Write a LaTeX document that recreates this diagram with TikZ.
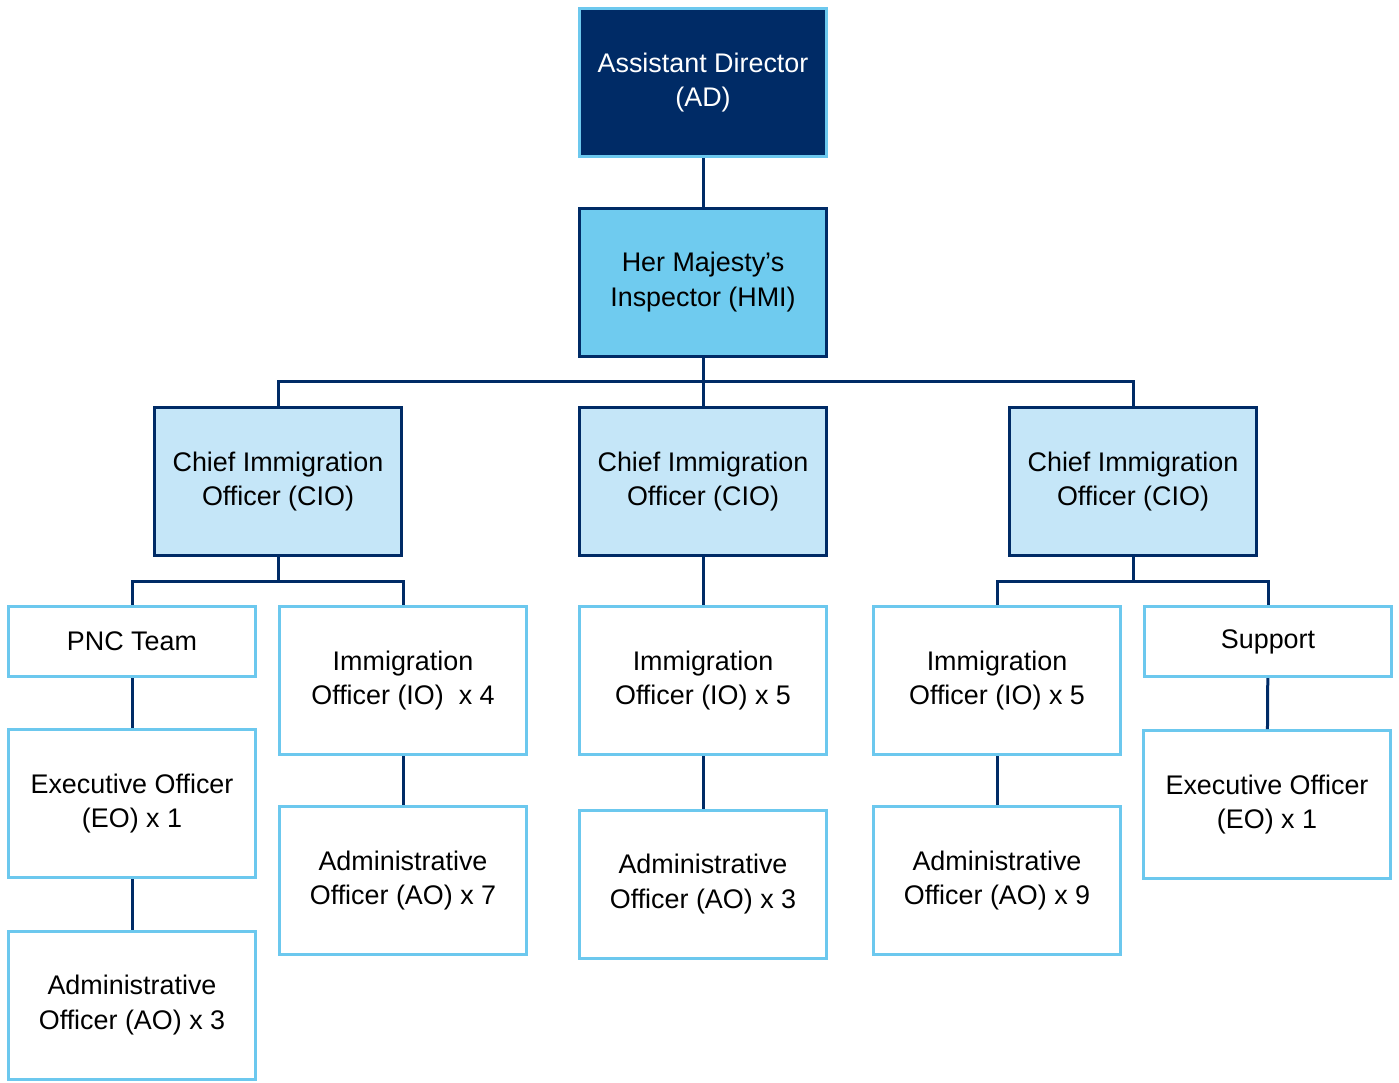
\documentclass[tikz,border=0pt]{standalone}
\usepackage{fontspec}
\setmainfont{Liberation Sans}
\usepackage{tikz}
\usetikzlibrary{positioning,calc}

\definecolor{navy}{RGB}{0,43,102}
\definecolor{edgeblue}{RGB}{108,200,238}
\definecolor{hmiblue}{RGB}{111,203,239}
\definecolor{cioblue}{RGB}{197,230,248}

\begin{document}
\begin{tikzpicture}[x=1bp, y=-1bp,
	every box/.style={rectangle, line width=3bp, align=center, inner sep=0pt,
		minimum width=247bp, font=\fontsize{27}{35}\selectfont},
	head box/.style={every box, draw=edgeblue, fill=navy, text=white, minimum height=148bp},
	lead box/.style={every box, draw=navy, fill=hmiblue, minimum height=148bp},
	cio box/.style={every box, draw=navy, fill=cioblue, minimum height=148bp},
	staff box/.style={every box, draw=edgeblue, fill=white, minimum height=148bp},
	team box/.style={every box, draw=edgeblue, fill=white, minimum height=70bp},
	link/.style={draw=navy, line width=3bp}]
	
	\useasboundingbox (0,0) rectangle (1399,1082);
	
	\node [head box] (ad) at (703,82.5) {Assistant Director\\(AD)};
	\node [lead box] (hmi) at (703,282) {Her Majesty’s\\Inspector (HMI)};
	
	\foreach \x [count=\n] in {278,703,1133}
	\node [cio box] (cio-\n) at (\x,481.5) {Chief Immigration\\Officer (CIO)};
	
	% left team
	\node [team box] (pnc) at (132,641.5) {PNC Team};
	\node [staff box] (eo-1) at (132,803.5) {Executive Officer\\(EO) x 1};
	\node [staff box] (ao-1) at (132,1005) {Administrative\\Officer (AO) x 3};
	\node [staff box] (io-1) at (403,680.5) {Immigration\\Officer (IO)\ \ x 4};
	\node [staff box] (ao-2) at (403,880.5) {Administrative\\Officer (AO) x 7};
	
	% middle team
	\node [staff box] (io-2) at (703,680.5) {Immigration\\Officer (IO) x 5};
	\node [staff box] (ao-3) at (703,884) {Administrative\\Officer (AO) x 3};
	
	% right team
	\node [staff box] (io-3) at (997,680.5) {Immigration\\Officer (IO) x 5};
	\node [staff box] (ao-4) at (997,880.5) {Administrative\\Officer (AO) x 9};
	\node [team box] (sup) at (1268,641.5) {Support};
	\node [staff box] (eo-2) at (1267,804.5) {Executive Officer\\(EO) x 1};
	
	\coordinate (bus-top) at (703,381.5);
	\coordinate (bus-l) at (278,581);
	\coordinate (bus-r) at (1133,581);
	
	\draw [link] (ad) -- (hmi);
	\draw [link] (hmi) -- (bus-top);
	\draw [link] (bus-top) -- (cio-2);
	\foreach \n in {1,3}
	\draw [link] (bus-top) -| (cio-\n);
	
	\draw [link] (cio-1) -- (bus-l);
	\draw [link] (bus-l) -| (pnc);
	\draw [link] (bus-l) -| (io-1);
	\draw [link] (cio-3) -- (bus-r);
	\draw [link] (bus-r) -| (io-3);
	\draw [link] (bus-r) -| (sup);
	\draw [link] (cio-2) -- (io-2);
	
	\foreach \a/\b in {pnc/eo-1, eo-1/ao-1, io-1/ao-2, io-2/ao-3, io-3/ao-4, sup/eo-2}
	\draw [link] (\a) -- (\b);
	
\end{tikzpicture}
\end{document}
